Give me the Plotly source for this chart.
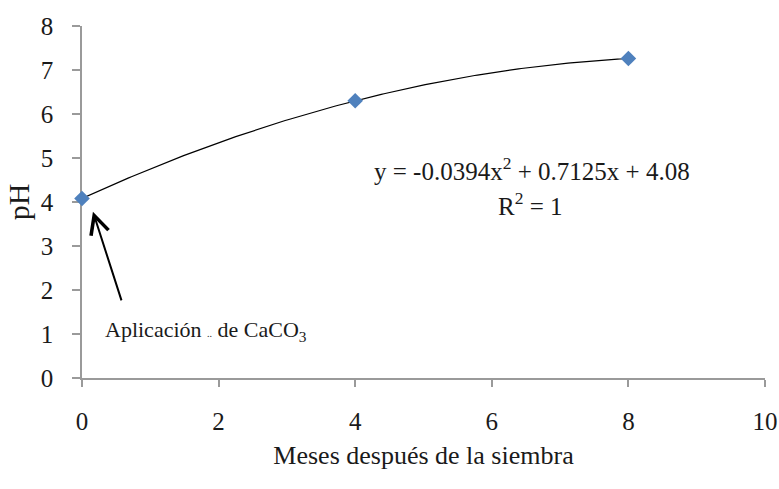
import numpy as np
import plotly.graph_objects as go

# Data
months = [0, 4, 8]
ph_values = [4.08, 6.30, 7.26]
x_ticks = [0, 2, 4, 6, 8, 10]
y_ticks = [0, 1, 2, 3, 4, 5, 6, 7, 8]
equation_text = "y = -0.0394x<sup>2</sup> + 0.7125x + 4.08"
r2_text = "R<sup>2</sup> = 1"
note_text = "Aplicación <span style='font-size:10px'>..</span> de CaCO<sub>3</sub>"
x_title = "Meses después de la siembra"
y_title = "pH"

# Polynomial trendline fitted to the data (order 2)
coef = np.polyfit(months, ph_values, 2)
xs = np.linspace(min(months), max(months), 200)
ys = np.polyval(coef, xs)

FONT = "'Liberation Serif', 'Times New Roman', Times, serif"
TXT = "#1a1a1a"

fig = go.Figure()
fig.add_trace(go.Scatter(x=xs, y=ys, mode="lines",
                         line=dict(color="black", width=1.2),
                         hoverinfo="skip", showlegend=False, cliponaxis=False))
fig.add_trace(go.Scatter(x=months, y=ph_values, mode="markers",
                         marker=dict(symbol="diamond", size=12, color="#4F81BD",
                                     line=dict(width=0)),
                         showlegend=False, cliponaxis=False))

fig.add_annotation(x=6.59, y=4.76, text=equation_text, showarrow=False,
                   font=dict(family=FONT, size=25, color=TXT), xanchor="center", yanchor="middle")
fig.add_annotation(x=6.57, y=3.95, text=r2_text, showarrow=False,
                   font=dict(family=FONT, size=25, color=TXT), xanchor="center", yanchor="middle")
fig.add_annotation(x=0.31, y=1.07, text=note_text, showarrow=False,
                   font=dict(family=FONT, size=22, color=TXT), xanchor="left", yanchor="middle")
# arrow
fig.add_annotation(x=0.16, y=3.78, ax=0.585, ay=1.73, xref="x", yref="y",
                   axref="x", ayref="y", text="", showarrow=True,
                   arrowhead=5, arrowsize=1.8, arrowwidth=2, arrowcolor="black")

axis_common = dict(showline=True, linecolor="#9a9a9a", linewidth=1.5,
                   ticks="outside", tickcolor="#9a9a9a", tickwidth=1.5,
                   showgrid=False, zeroline=False, layer="below traces",
                   automargin=False,
                   tickfont=dict(family=FONT, size=25, color=TXT))

fig.update_xaxes(range=[0, 10], tickvals=x_ticks, ticklen=7,
                 ticklabelstandoff=13,
                 title=dict(text=x_title, font=dict(family=FONT, size=26, color=TXT), standoff=12),
                 **axis_common)
fig.update_yaxes(range=[0, 8], tickvals=y_ticks, ticklen=8,
                 ticklabelstandoff=14,
                 title=dict(text=y_title, font=dict(family=FONT, size=30, color=TXT), standoff=2),
                 **axis_common)

fig.update_layout(width=779, height=489,
                  margin=dict(l=82, r=14, t=26, b=111),
                  font=dict(family=FONT),
                  paper_bgcolor="white", plot_bgcolor="white")

fig.write_html("out.html")
